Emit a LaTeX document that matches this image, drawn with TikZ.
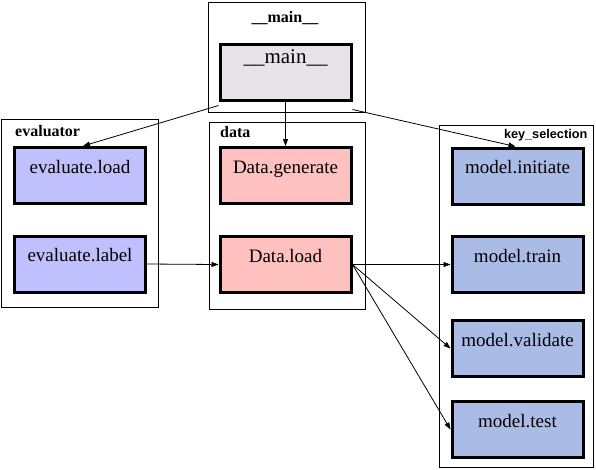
\documentclass[tikz,border=0pt]{standalone}
\usepackage{fontspec}
\setmainfont{Liberation Serif}
\newfontfamily\sansfam{Liberation Sans}
\usetikzlibrary{arrows.meta}
\definecolor{maingray}{HTML}{E6E4E8}
\definecolor{evblue}{HTML}{C0C0FF}
\definecolor{datared}{HTML}{FFC0C0}
\definecolor{keyblue}{HTML}{AABBE6}
\tikzset{
  box/.style={draw, line width=3pt, inner sep=0pt, minimum width=131pt,
    text height=25.5pt, text depth=30.5pt, font=\fontsize{19}{19}\selectfont},
  cluster/.style={draw, line width=0.9pt, inner sep=0pt},
  ctitle/.style={font=\fontsize{16}{16}\selectfont\bfseries, inner sep=0pt},
  conn/.style={line width=0.8pt, -{Triangle[length=7pt,width=5pt]}},
  seg/.style={line width=0.8pt}
}
\begin{document}
\begin{tikzpicture}[x=1pt,y=-1pt]
\useasboundingbox (0,0) rectangle (596,469);
% clusters
\node[cluster, minimum width=157pt, minimum height=109.5pt] (cmain) at (286.5,57.25) {};
\node[cluster, minimum width=157.5pt, minimum height=187.5pt] (ceval) at (79.75,213.25) {};
\node[cluster, minimum width=156pt, minimum height=187pt] (cdata) at (287,215.5) {};
\node[cluster, minimum width=154pt, minimum height=342pt] (ckey) at (516,296) {};
% cluster titles
\node[ctitle, anchor=base] (tmain) at (285,22) {\_\_main\_\_};
\node[ctitle, anchor=base west] (teval) at (15,136.5) {evaluator};
\node[ctitle, anchor=base west] (tdata) at (220,137) {data};
\node[ctitle, anchor=base east, font=\fontsize{12.7}{13}\sansfam\bfseries] (tkey) at (587.5,138) {key\_selection};
% nodes
\node[box, fill=maingray, text height=19pt, text depth=37pt, font=\fontsize{21}{21}\selectfont] (m) at (285.5,72) {\_\_main\_\_};
\node[box, fill=evblue] (el) at (80,175.5) {evaluate.load};
\node[box, fill=evblue] (elab) at (80,264) {evaluate.label};
\node[box, fill=datared] (dg) at (285.5,175.5) {Data.generate};
\node[box, fill=datared] (dl) at (285.5,264.5) {Data.load};
\node[box, fill=keyblue] (mi) at (517.5,176) {model.initiate};
\node[box, fill=keyblue] (mt) at (517.5,264.5) {model.train};
\node[box, fill=keyblue] (mv) at (517.5,348.5) {model.validate};
\node[box, fill=keyblue] (mtest) at (517.5,429.5) {model.test};
% connectors
\draw[conn] ([yshift=-4pt]m.south west) -- ([xshift=3pt]el.north);
\draw[conn] (m.south) -- (dg.north);
\draw[conn] ([yshift=-8pt]m.south east) -- ([xshift=-2pt]mi.north);
\draw[conn] (elab.east) -- (dl.west);
\draw[conn] (dl.east) -- (mt.west);
\draw[conn] (dl.east) -- (mv.west);
\draw[conn] (dl.east) -- (mtest.west);
\end{tikzpicture}
\end{document}
